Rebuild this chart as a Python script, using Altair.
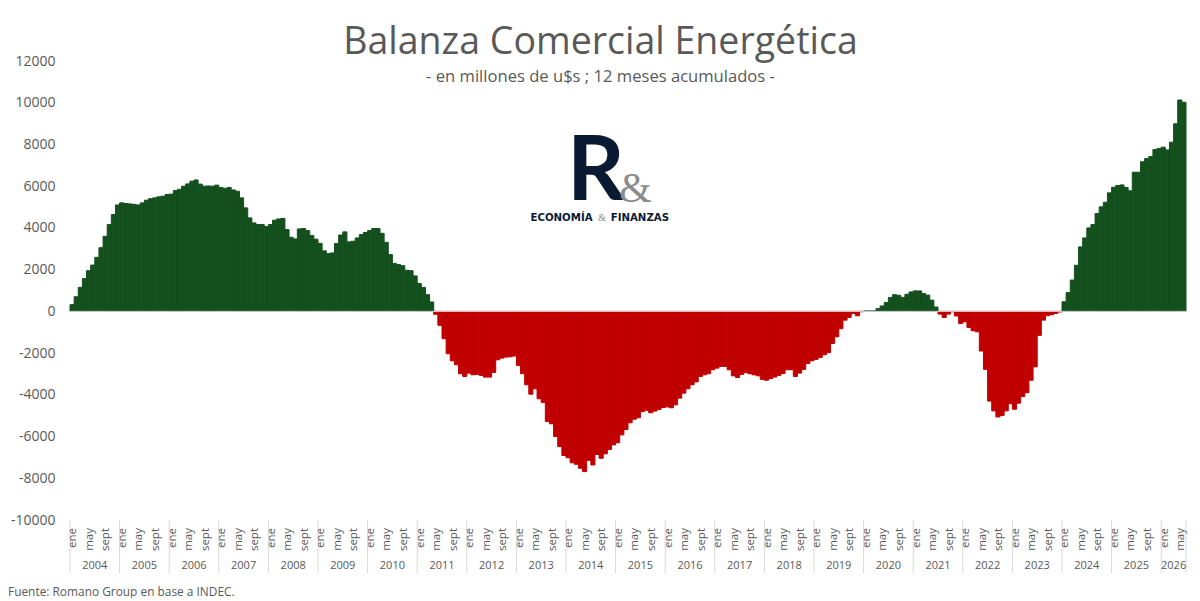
import altair as alt
import pandas as pd

# 12 month accumulated balance, by month
balanza = [
    320, 700, 1150, 1570, 1950, 2220, 2590, 3050, 3600, 4160, 4640, 5100,  # 2004
    5200, 5170, 5150, 5130, 5100, 5200, 5330, 5400, 5440, 5490, 5520, 5600,  # 2005
    5620, 5790, 5850, 6000, 6110, 6240, 6300, 6100, 6000, 6010, 6000, 6050,  # 2006
    5940, 5900, 5940, 5820, 5760, 5440, 4960, 4480, 4240, 4160, 4160, 4060,  # 2007
    4160, 4370, 4430, 4450, 3920, 3550, 3470, 3950, 3970, 3870, 3630, 3460,  # 2008
    3260, 2900, 2770, 2800, 3250, 3660, 3810, 3330, 3360, 3520, 3680, 3780,  # 2009
    3870, 3970, 3970, 3740, 3310, 2720, 2300, 2240, 2190, 1970, 1950, 1700,  # 2010
    1340, 1150, 800, 450, -140, -670, -1310, -2030, -2370, -2560, -2990, -3120,  # 2011
    -2960, -3040, -3020, -3070, -3150, -3150, -2930, -2320, -2240, -2190, -2180, -2140,  # 2012
    -2590, -2990, -3520, -3970, -3710, -4190, -4370, -5280, -5390, -6000, -6480, -6910,  # 2013
    -7020, -7260, -7330, -7520, -7680, -7140, -7360, -6860, -7040, -6830, -6620, -6400,  # 2014
    -6300, -5920, -5660, -5340, -5170, -5100, -4800, -4740, -4860, -4780, -4700, -4610,  # 2015
    -4580, -4620, -4480, -4160, -3920, -3710, -3520, -3380, -3120, -3040, -2990, -2800,  # 2016
    -2720, -2640, -2640, -2800, -3090, -3170, -3020, -2940, -2990, -3040, -3090, -3260,  # 2017
    -3300, -3220, -3150, -3070, -2980, -2800, -2800, -3120, -2960, -2780, -2500, -2370,  # 2018
    -2300, -2210, -2080, -1980, -1540, -1220, -830, -420, -290, -100, -210, -20,  # 2019
    20, 20, 20, 130, 260, 430, 670, 800, 770, 670, 820, 930,  # 2020
    980, 980, 860, 780, 540, 210, -130, -290, -130, -20, -220, -580,  # 2021
    -500, -770, -930, -980, -1900, -2780, -4300, -4770, -5060, -4990, -4770, -4430,  # 2022
    -4690, -4400, -4080, -3900, -3300, -2660, -1150, -420, -210, -160, -100, -30,  # 2023
    460, 900, 1500, 2210, 3090, 3520, 4000, 4160, 4690, 5010, 5230, 5680,  # 2024
    5950, 6030, 6060, 5940, 5780, 6670, 6670, 7170, 7330, 7420, 7760, 7810,  # 2025
    7870, 7740, 8110, 8990, 10130, 10020,  # 2026
]
anios = [2004, 2005, 2006, 2007, 2008, 2009, 2010, 2011, 2012, 2013, 2014, 2015,
         2016, 2017, 2018, 2019, 2020, 2021, 2022, 2023, 2024, 2025, 2026]
meses = ["ene", "may", "sept"]
meses_pos = [0, 4, 8]
y_ticks = [-10000, -8000, -6000, -4000, -2000, 0, 2000, 4000, 6000, 8000, 10000, 12000]

GRIS = "#595959"
FUENTE = "Open Sans"

df = pd.DataFrame({"mes": range(len(balanza)), "valor": balanza})
df["fin"] = df["mes"] + 1
df["signo"] = ["pos" if v >= 0 else "neg" for v in balanza]

inicio = [(a - 2004) * 12 for a in anios]
fin = inicio[1:] + [len(balanza)]
df_anios = pd.DataFrame({"anio": [str(a) for a in anios],
                         "centro": [(i + f) / 2 for i, f in zip(inicio, fin)]})
df_sep = pd.DataFrame({"pos": inicio + [len(balanza)]})
df_meses = pd.DataFrame([
    {"mes": m, "pos": i + p + 0.8}
    for i, f in zip(inicio, fin)
    for m, p in zip(meses, meses_pos) if i + p < f
])

x_scale = alt.Scale(domain=[0, len(balanza)], nice=False, zero=False)
y_scale = alt.Scale(domain=[-10000, 12000], nice=False)
color_scale = alt.Scale(domain=["pos", "neg"], range=["#14501E", "#C00000"])

# same colour stroke closes the hairline seams between the months
barras = alt.Chart(df).mark_bar(strokeWidth=1).encode(
    x=alt.X("mes:Q", scale=x_scale, axis=None),
    x2="fin:Q",
    y=alt.Y("valor:Q", scale=y_scale, title=None,
            axis=alt.Axis(values=y_ticks, domain=False, ticks=False, grid=False,
                          labelColor=GRIS, labelFontSize=14, labelFont=FUENTE,
                          labelPadding=15, labelExpr="'' + datum.value")),
    y2=alt.datum(0),
    color=alt.Color("signo:N", legend=None, scale=color_scale),
    stroke=alt.Stroke("signo:N", legend=None, scale=color_scale),
)

cero = alt.Chart(pd.DataFrame({"y": [0]})).mark_rule(color="#D9D9D9", strokeWidth=1).encode(
    y=alt.Y("y:Q", scale=y_scale))

separadores = alt.Chart(df_sep).mark_rule(color="#D9D9D9", strokeWidth=1).encode(
    x=alt.X("pos:Q", scale=x_scale),
    y=alt.value(459),
    y2=alt.value(512),
)

etiquetas_mes = alt.Chart(df_meses).mark_text(
    angle=270, align="right", baseline="middle", fontSize=11.5, font=FUENTE, color=GRIS
).encode(x=alt.X("pos:Q", scale=x_scale), y=alt.value(467), text="mes:N")

etiquetas_anio = alt.Chart(df_anios).mark_text(
    align="center", baseline="middle", fontSize=11, font=FUENTE, color=GRIS
).encode(x=alt.X("centro:Q", scale=x_scale), y=alt.value(505), text="anio:N")


def texto(cadena, x, y, **kw):
    return alt.Chart(pd.DataFrame({"t": [cadena]})).mark_text(**kw).encode(
        x=alt.value(x), y=alt.value(y), text="t:N")


fuente = texto("Fuente: Romano Group en base a INDEC.", -62, 530.5, align="left",
               baseline="middle", fontSize=11.9, font=FUENTE, color=GRIS)

# logo
logo_r = texto("R", 497, 139, align="left", baseline="alphabetic", fontSize=90,
               fontWeight="bold", font="Lato", color="#0B1A33")
logo_amp = texto("&", 549, 141, align="left", baseline="alphabetic", fontSize=42,
                 font="Liberation Serif", color="#8C8C8C")
logo_txt1 = texto("ECONOMÍA", 460.5, 157, align="left", baseline="middle", fontSize=10.2,
                  fontWeight="bold", font="DejaVu Sans", color="#0B1A33")
logo_amp2 = texto("&", 532, 157, align="center", baseline="middle", fontSize=10.2,
                  font="Liberation Serif", color="#8C8C8C")
logo_txt2 = texto("FINANZAS", 599, 157, align="right", baseline="middle", fontSize=10.2,
                  fontWeight="bold", font="DejaVu Sans", color="#0B1A33")

chart = alt.layer(
    barras, cero, separadores, etiquetas_mes, etiquetas_anio, fuente,
    logo_r, logo_amp, logo_txt1, logo_amp2, logo_txt2,
).properties(
    width=1116,
    height=459,
    padding={"left": 62, "top": 53, "right": 6, "bottom": 78},
    autosize=alt.AutoSizeParams(type="none"),
    title=alt.Title(
        "Balanza Comercial Energética",
        subtitle="- en millones de u$s ; 12 meses acumulados -",
        anchor="middle", frame="group", dx=-27.5, offset=-32,
        font=FUENTE, fontSize=37.5, fontWeight="normal", color=GRIS,
        subtitleFont=FUENTE, subtitleFontSize=16.6, subtitleColor=GRIS, subtitlePadding=8,
    ),
).configure_view(stroke=None)

chart.save("out.html", embed_options={"renderer": "svg", "actions": False})
